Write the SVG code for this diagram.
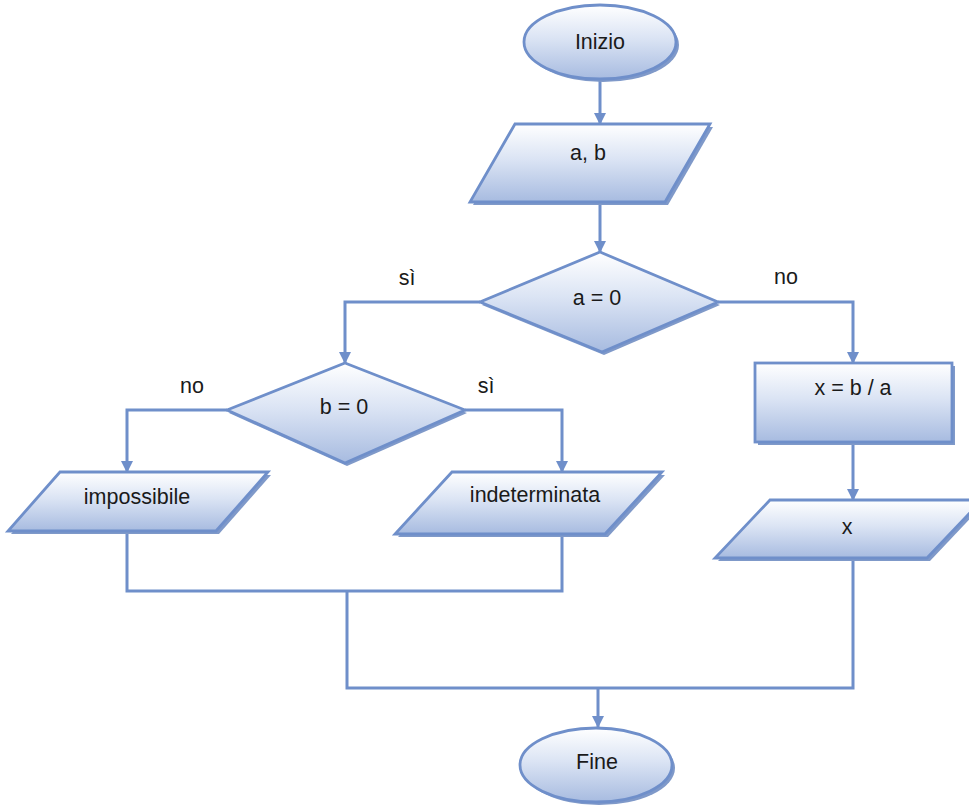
<svg xmlns="http://www.w3.org/2000/svg" width="969" height="806" viewBox="0 0 969 806">
<defs>
<linearGradient id="g" x1="0" y1="0" x2="0" y2="1">
<stop offset="0" stop-color="#ffffff"/>
<stop offset="0.45" stop-color="#dbe4f4"/>
<stop offset="1" stop-color="#a7bbe0"/>
</linearGradient>
<marker id="arr" markerWidth="12" markerHeight="12" refX="11" refY="6" orient="auto" markerUnits="userSpaceOnUse">
<path d="M0,0 L12,6 L0,12 Z" fill="#6f8fca"/>
</marker>
</defs>
<style>
.sh{fill:#7f99c9;stroke:none}
.nd{fill:url(#g);stroke:#6f8fca;stroke-width:2.8}
.c{fill:none;stroke:#6f8fca;stroke-width:3}
.a{marker-end:url(#arr)}
text{font-family:"Liberation Sans",Arial,sans-serif;font-size:21.5px;fill:#1a1a1a;text-anchor:middle;dominant-baseline:central}
</style>
<rect width="969" height="806" fill="#ffffff"/>
<g id="connectors">
<path class="c a" d="M600,80 V124"/>
<path class="c a" d="M600,203 V252"/>
<path class="c a" d="M480,302 H345 V363"/>
<path class="c a" d="M718,302 H853 V363"/>
<path class="c a" d="M227,410 H127 V472"/>
<path class="c a" d="M465,410 H562 V472"/>
<path class="c a" d="M853,443 V500"/>
<path class="c" d="M127,531 V591 H562 V534"/>
<path class="c" d="M347,591 V688 H853 V559"/>
<path class="c a" d="M598,688 V727"/>
</g>
<g id="inizio">
<ellipse class="sh" cx="603" cy="45" rx="76" ry="37"/>
<ellipse class="nd" cx="600" cy="42" rx="76" ry="37"/>
<text x="600" y="42">Inizio</text>
</g>
<g id="input-ab">
<polygon class="sh" points="518,127 713,127 668,205 473,205"/>
<polygon class="nd" points="515,124 710,124 665,202 470,202"/>
<text x="588" y="153">a, b</text>
</g>
<g id="dec-a">
<polygon class="sh" points="602,255 720,305 604,355 482,305"/>
<polygon class="nd" points="600,252 718,302 602,352 480,302"/>
<text x="597" y="298">a = 0</text>
</g>
<g id="dec-b">
<polygon class="sh" points="347,366 467,413 347,466 229,413"/>
<polygon class="nd" points="345,363 465,410 345,463 227,410"/>
<text x="344" y="407">b = 0</text>
</g>
<g id="calc">
<rect class="sh" x="758" y="366" width="197" height="79"/>
<rect class="nd" x="755" y="363" width="197" height="79"/>
<text x="853" y="388">x = b / a</text>
</g>
<g id="out-imp">
<polygon class="sh" points="63,475 271,475 219,534 11,534"/>
<polygon class="nd" points="60,472 268,472 216,531 8,531"/>
<text x="137" y="497">impossibile</text>
</g>
<g id="out-ind">
<polygon class="sh" points="455,475 665,475 608,537 398,537"/>
<polygon class="nd" points="452,472 662,472 605,534 395,534"/>
<text x="535" y="495">indeterminata</text>
</g>
<g id="out-x">
<polygon class="sh" points="773,503 985,503 930,561 718,561"/>
<polygon class="nd" points="770,500 982,500 927,558 715,558"/>
<text x="847" y="527">x</text>
</g>
<g id="fine">
<ellipse class="sh" cx="599" cy="768" rx="76" ry="37"/>
<ellipse class="nd" cx="596" cy="765" rx="76" ry="37"/>
<text x="597" y="762">Fine</text>
</g>
<g id="labels">
<text x="407" y="278">sì</text>
<text x="786" y="277">no</text>
<text x="192" y="386">no</text>
<text x="486" y="386">sì</text>
</g>
</svg>
